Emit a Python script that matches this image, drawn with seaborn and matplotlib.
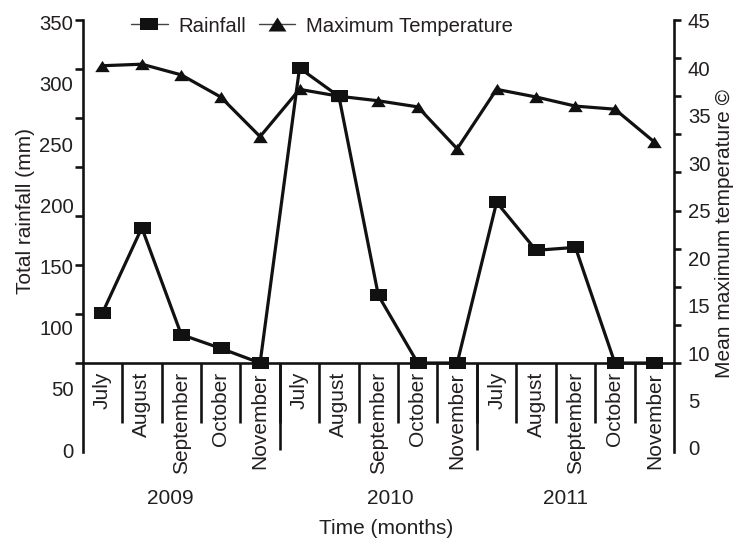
import numpy as np
import pandas as pd
import matplotlib
matplotlib.use("Agg")
import matplotlib.pyplot as plt
from matplotlib.lines import Line2D
from matplotlib.transforms import blended_transform_factory
import seaborn as sns

# ---------------- data ----------------
months = ["July", "August", "September", "October", "November"] * 3
years = ["2009", "2010", "2011"]
rainfall = [51, 138, 29, 15, 0, 301, 272, 69, 0, 0, 164, 115, 118, 0, 0]          # mm
max_temp = [39.0, 39.2, 37.8, 34.9, 29.7, 35.9, 35.0, 34.4, 33.6, 28.1,
            35.9, 34.9, 33.7, 33.3, 29.0]                                          # deg C
rain_ticks = [0, 50, 100, 150, 200, 250, 300, 350]
temp_ticks = [0, 5, 10, 15, 20, 25, 30, 35, 40, 45]

df = pd.DataFrame({"pos": np.arange(len(months)), "month": months,
                   "rain": rainfall, "temp": max_temp})

# ---------------- style ----------------
sns.set_theme(style="ticks")
plt.rcParams["font.family"] = ["Liberation Sans", "DejaVu Sans"]
TXT = "#231f20"
LINE = "#111111"
plt.rcParams["text.color"] = TXT
plt.rcParams["axes.labelcolor"] = TXT
plt.rcParams["xtick.color"] = LINE
plt.rcParams["ytick.color"] = LINE
plt.rcParams["xtick.labelcolor"] = TXT
plt.rcParams["ytick.labelcolor"] = TXT

PX = 0.72  # points per pixel at dpi 100
FS = 14.6
LW_AX = 2.6 * PX

fig = plt.figure(figsize=(7.37, 5.44), dpi=100)
ax = fig.add_axes([82.7 / 737, 92 / 544, 591.3 / 737, 432 / 544])
ax2 = ax.twinx()

sq = [(-1, -0.72), (1, -0.72), (1, 0.72), (-1, 0.72)]
tri = [(-1, -0.78), (1, -0.78), (0, 0.78)]

sns.lineplot(data=df, x="pos", y="rain", ax=ax, color=LINE, lw=2.3,
             marker=sq, markersize=17 * PX, markeredgewidth=0, estimator=None,
             sort=False, legend=False, clip_on=False, zorder=4)
sns.lineplot(data=df, x="pos", y="temp", ax=ax2, color=LINE, lw=2.3,
             marker=tri, markersize=14.5 * PX, markeredgewidth=0, estimator=None,
             sort=False, legend=False, clip_on=False, zorder=4)

# ---------------- limits ----------------
ax.set_xlim(-0.5, len(months) - 0.5)
ax.set_ylim(-90.8, 350)
ax2.set_ylim(-11.68, 45)

# ---------------- spines ----------------
for a in (ax, ax2):
    for s in a.spines.values():
        s.set_linewidth(LW_AX)
        s.set_color(LINE)
        s.set_capstyle("projecting")
ax.spines["top"].set_visible(False)
ax.spines["right"].set_visible(False)
ax.spines["bottom"].set_position(("data", 0))
ax2.spines["top"].set_visible(False)
ax2.spines["left"].set_visible(False)
ax2.spines["bottom"].set_visible(False)

# y tick marks (unlabelled) on data scales
ax.set_yticks(rain_ticks)
ax.set_yticklabels([])
ax.tick_params(axis="y", length=8 * PX, width=LW_AX, direction="out")
ax2.set_yticks(temp_ticks)
ax2.set_yticklabels([])
ax2.tick_params(axis="y", length=7 * PX, width=LW_AX, direction="out")

# label scales (evenly spread over the full spine)
def rain_fwd(d):
    return (np.asarray(d, dtype=float) + 88.78) / 1.2470

def rain_inv(v):
    return np.asarray(v, dtype=float) * 1.2470 - 88.78

def temp_fwd(t):
    return (np.asarray(t, dtype=float) + 11.15) / 1.2455

def temp_inv(v):
    return np.asarray(v, dtype=float) * 1.2455 - 11.15

secl = ax.secondary_yaxis("left", functions=(rain_fwd, rain_inv))
secl.set_yticks(rain_ticks)
secl.set_yticklabels([str(v) for v in rain_ticks])
secl.tick_params(axis="y", length=0, pad=6.8, labelsize=FS)
secl.spines["left"].set_visible(False)

secr = ax2.secondary_yaxis("right", functions=(temp_fwd, temp_inv))
secr.set_yticks(temp_ticks)
secr.set_yticklabels([str(v) for v in temp_ticks])
secr.tick_params(axis="y", length=0, pad=10, labelsize=FS)
secr.spines["right"].set_visible(False)

# x axis: month labels and separators
ax.set_xticks(df["pos"])
ax.set_xticklabels(months, rotation=90, fontsize=15)
ax.tick_params(axis="x", which="major", length=0, pad=9 * PX)
ax.set_xticks(np.arange(0.5, len(months) - 1, 1.0), minor=True)
ax.tick_params(axis="x", which="minor", length=60 * PX, width=LW_AX, direction="out")

ylo, yhi = ax.get_ylim()
zero_frac = (0 - ylo) / (yhi - ylo)
secx = ax.secondary_xaxis(zero_frac)
secx.set_xticks([4.5, 9.5])
secx.set_xticklabels([])
secx.tick_params(axis="x", length=87 * PX, width=LW_AX, direction="out")
for s in secx.spines.values():
    s.set_visible(False)

# year labels
trans = blended_transform_factory(ax.transData, ax.transAxes)
for yr, xp in zip(years, [1.72, 7.31, 11.76]):
    ax.text(xp, (452 - 498) / 432, yr, transform=trans, ha="center", va="center",
            fontsize=15, color=TXT)

# axis labels
ax.set_xlabel("Time (months)", fontsize=15)
ax.xaxis.set_label_coords(0.513, (452 - 519) / 432)
ax.set_ylabel("Total rainfall (mm)", fontsize=15)
ax.yaxis.set_label_coords((35 - 82.7) / 591.3, (452 - 211) / 432)
ax2.set_ylabel("Mean maximum temperature ©", fontsize=15)
ax2.yaxis.set_label_coords((715 - 82.7) / 591.3, (452 - 234) / 432)

# legend
handles = [
    Line2D([], [], color="#444444", lw=1.0, marker=sq, markersize=18 * PX,
           markerfacecolor=LINE, markeredgewidth=0),
    Line2D([], [], color="#444444", lw=1.0, marker=tri, markersize=18 * PX,
           markerfacecolor=LINE, markeredgewidth=0),
]
fig.legend(handles, ["Rainfall", "Maximum Temperature"], ncol=2, frameon=False,
           loc="center left", bbox_to_anchor=(131 / 737, 1 - 26 / 544),
           borderpad=0, borderaxespad=0, handlelength=1.8, handletextpad=0.55,
           columnspacing=0.6, fontsize=FS)

fig.savefig("out.png", dpi=100)
